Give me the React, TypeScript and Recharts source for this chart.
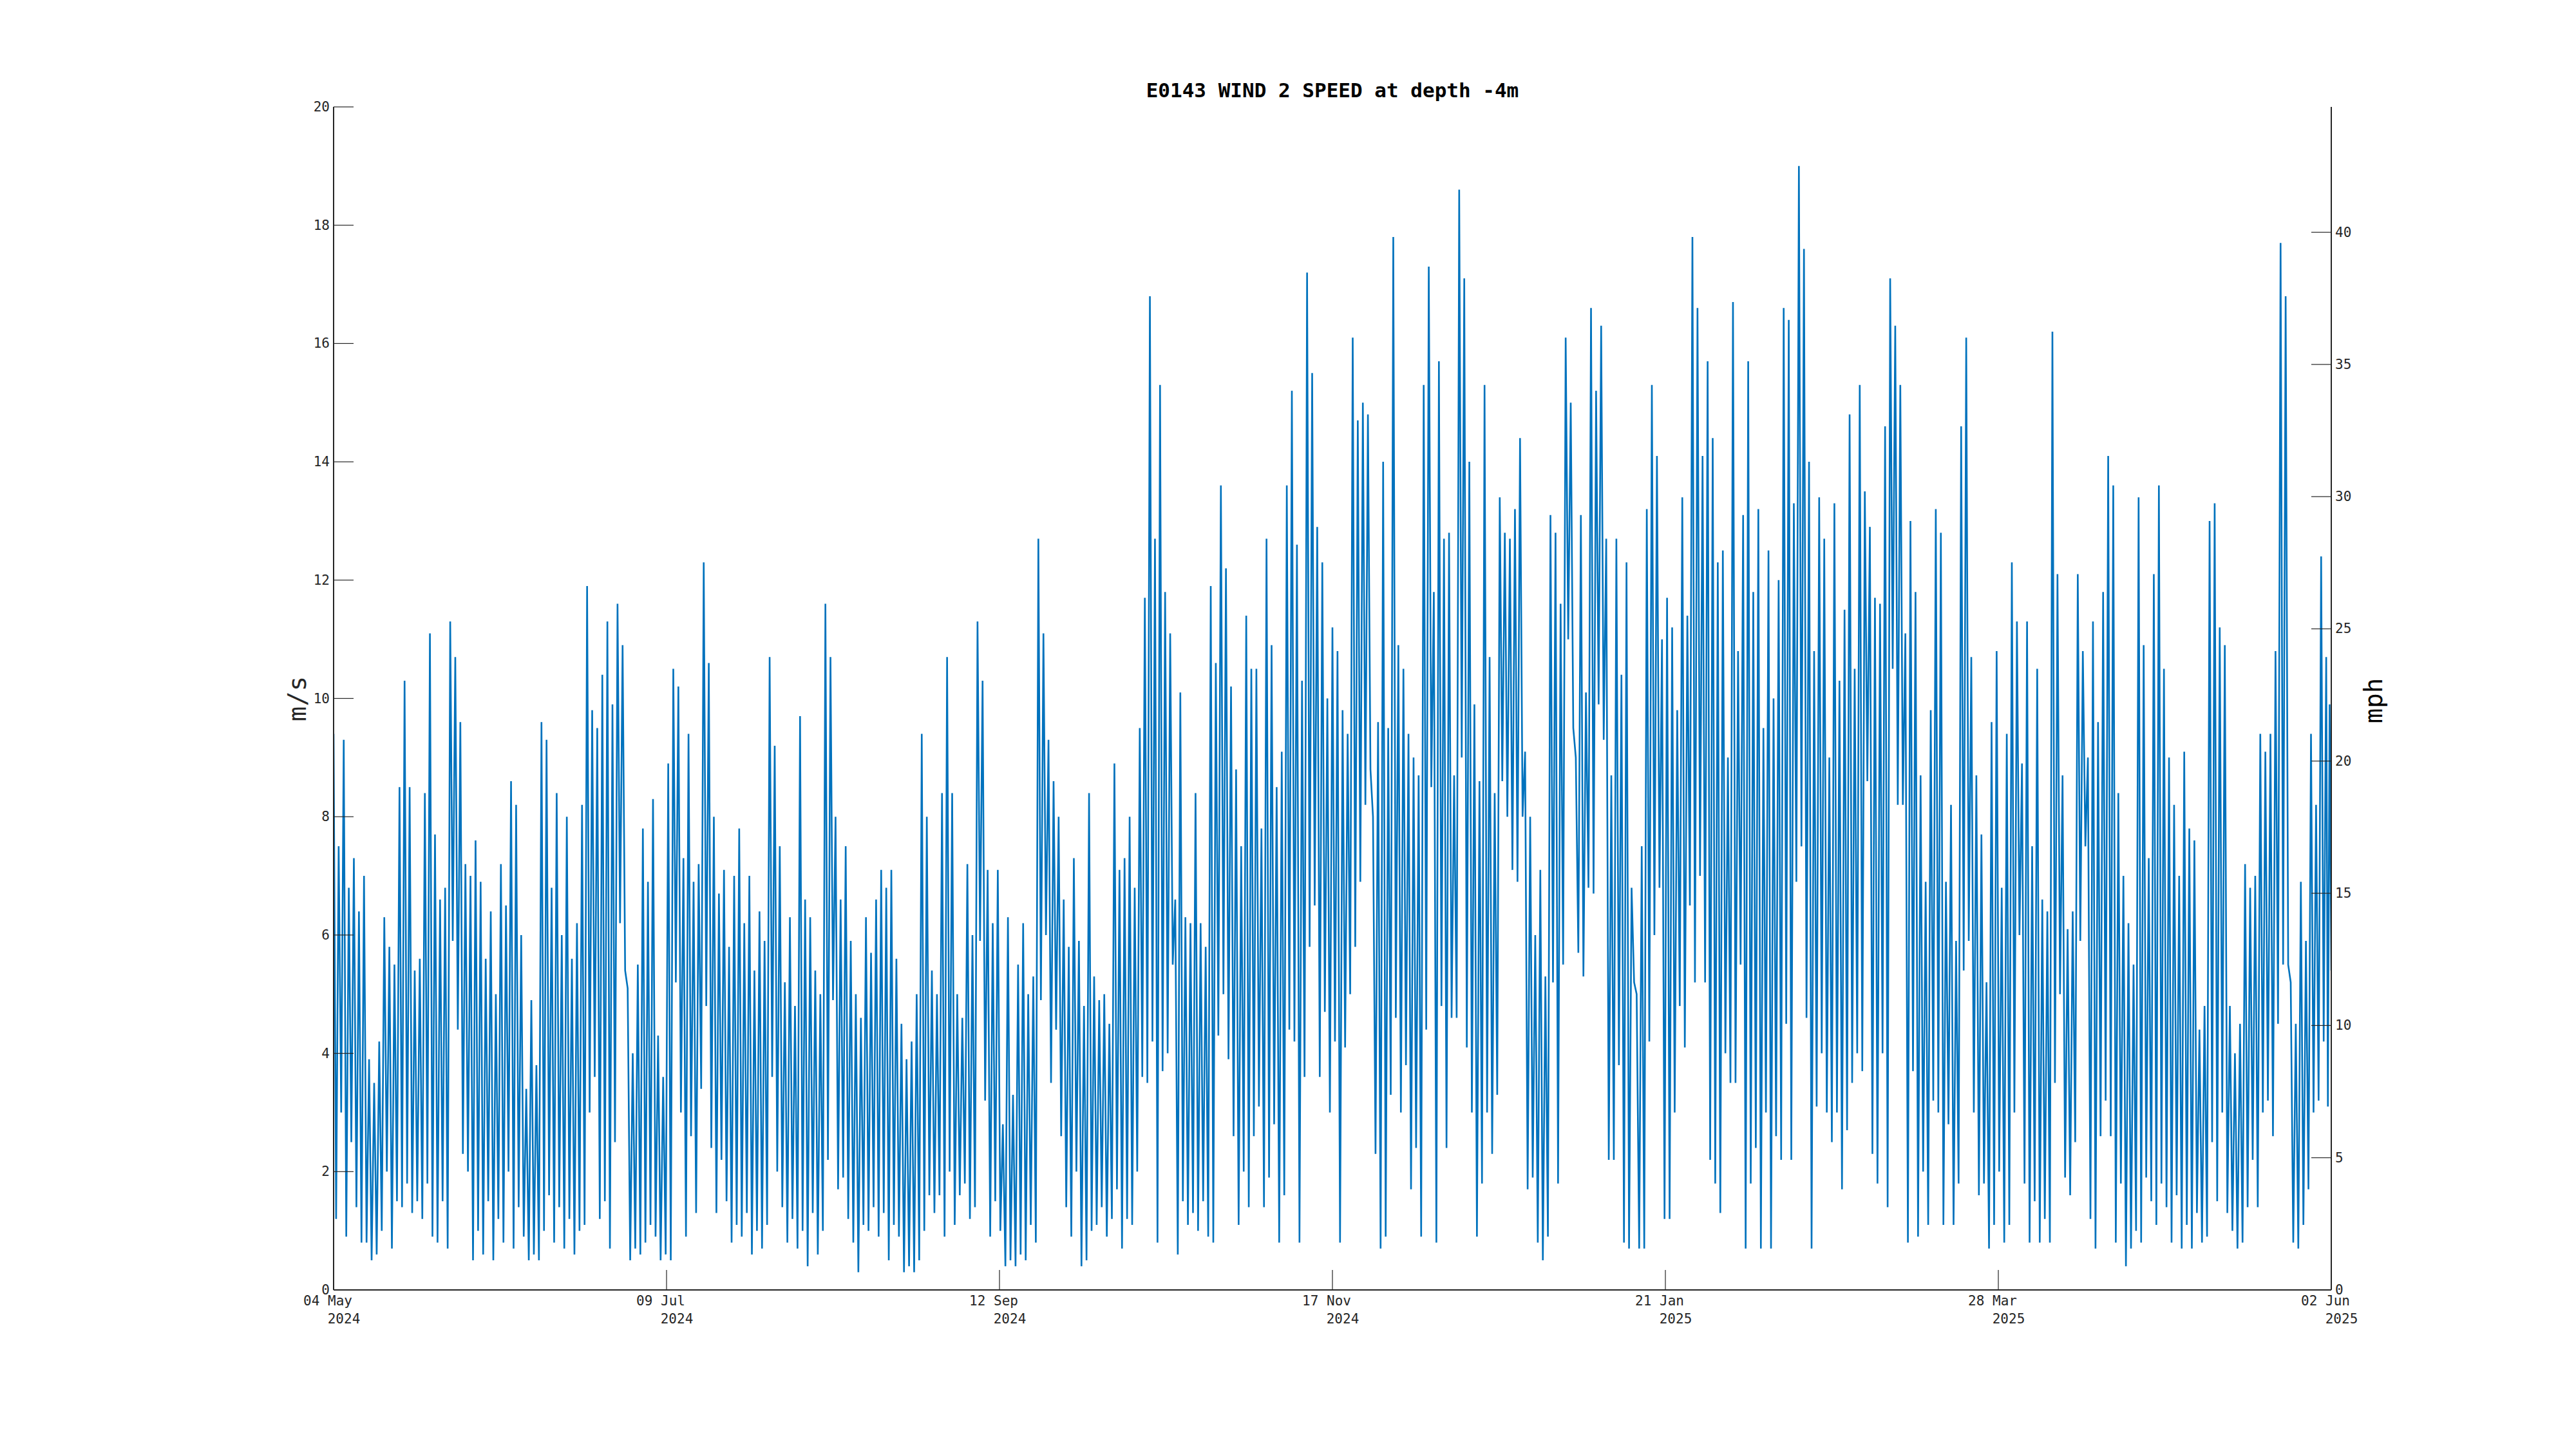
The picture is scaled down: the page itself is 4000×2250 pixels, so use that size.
import React from 'react';
import { LineChart, Line, XAxis, YAxis } from 'recharts';

// twice-daily readings (m/s) per month
const may2024 = [9.4, 1.2, 7.5, 3.0, 9.3, 0.9, 6.8, 2.5, 7.3, 1.4, 6.4, 0.8, 7.0, 0.8, 3.9, 0.5, 3.5, 0.6, 4.2, 1.0, 6.3, 2.0, 5.8, 0.7, 5.5, 1.5, 8.5, 1.4, 10.3, 1.8, 8.5, 1.3, 5.4, 1.5, 5.6, 1.2, 8.4, 1.8, 11.1, 0.9, 7.7, 0.8, 6.6, 1.5, 6.8, 0.7, 11.3, 5.9, 10.7, 4.4, 9.6, 2.3, 7.2, 2.0, 7.0, 0.5];
const jun2024 = [7.6, 1.0, 6.9, 0.6, 5.6, 1.5, 6.4, 0.5, 5.0, 1.2, 7.2, 0.8, 6.5, 2.0, 8.6, 0.7, 8.2, 1.4, 6.0, 0.9, 3.4, 0.5, 4.9, 0.6, 3.8, 0.5, 9.6, 1.0, 9.3, 1.6, 6.8, 0.8, 8.4, 1.4, 6.0, 0.7, 8.0, 1.2, 5.6, 0.6, 6.2, 1.0, 8.2, 1.1, 11.9, 3.0, 9.8, 3.6, 9.5, 1.2, 10.4, 1.5, 11.3, 0.7, 9.9, 2.5, 11.6, 6.2, 10.9, 5.4];
const jul2024 = [5.1, 0.5, 4.0, 0.7, 5.5, 0.6, 7.8, 0.8, 6.9, 1.1, 8.3, 0.9, 4.3, 0.5, 3.6, 0.6, 8.9, 0.5, 10.5, 5.2, 10.2, 3.0, 7.3, 0.9, 9.4, 2.6, 6.9, 1.3, 7.2, 3.4, 12.3, 4.8, 10.6, 2.4, 8.0, 1.3, 6.7, 2.2, 7.1, 1.5, 5.8, 0.8, 7.0, 1.1, 7.8, 0.9, 6.2, 1.3, 7.0, 0.6, 5.4, 1.0, 6.4, 0.7, 5.9, 1.1, 10.7, 3.6, 9.2, 2.0, 7.5, 1.4];
const aug2024 = [5.2, 0.8, 6.3, 1.2, 4.8, 0.7, 9.7, 1.0, 6.6, 0.4, 6.3, 1.3, 5.4, 0.6, 5.0, 1.0, 11.6, 2.2, 10.7, 4.9, 8.0, 1.7, 6.6, 1.9, 7.5, 1.2, 5.9, 0.8, 5.0, 0.3, 4.6, 1.1, 6.3, 1.0, 5.7, 1.4, 6.6, 0.9, 7.1, 1.3, 6.8, 0.5, 7.1, 1.1, 5.6, 0.9, 4.5, 0.3, 3.9, 0.4, 4.2, 0.3, 5.0, 0.5, 9.4, 1.0, 8.0, 1.6, 5.4, 1.3, 5.0, 1.6];
const sep2024 = [8.4, 0.9, 10.7, 2.0, 8.4, 1.1, 5.0, 1.6, 4.6, 1.8, 7.2, 1.2, 6.0, 1.4, 11.3, 5.9, 10.3, 3.2, 7.1, 0.9, 6.2, 1.5, 7.1, 1.0, 2.8, 0.4, 6.3, 0.5, 3.3, 0.4, 5.5, 0.6, 6.2, 0.5, 5.0, 1.1, 5.3, 0.8, 12.7, 4.9, 11.1, 6.0, 9.3, 3.5, 8.6, 4.4, 8.0, 2.6, 6.6, 1.4, 5.8, 0.9, 7.3, 2.0, 5.9, 0.4, 4.8, 0.5, 8.4, 1.0];
const oct2024 = [5.3, 1.1, 4.9, 1.4, 5.0, 0.9, 4.5, 1.2, 8.9, 1.7, 7.1, 0.7, 7.3, 1.2, 8.0, 1.1, 6.8, 2.0, 9.5, 3.6, 11.7, 3.5, 16.8, 4.2, 12.7, 0.8, 15.3, 3.7, 11.8, 4.0, 11.1, 5.5, 6.6, 0.6, 10.1, 1.5, 6.3, 1.1, 6.2, 1.3, 8.4, 1.0, 6.2, 1.5, 5.8, 0.9, 11.9, 0.8, 10.6, 4.3, 13.6, 5.0, 12.2, 3.9, 10.2, 2.6, 8.8, 1.1, 7.5, 2.0, 11.4, 1.4];
const nov2024 = [10.5, 2.6, 10.5, 3.1, 7.8, 1.4, 12.7, 1.9, 10.9, 2.8, 8.5, 0.8, 9.1, 1.6, 13.6, 4.4, 15.2, 4.2, 12.6, 0.8, 10.3, 3.6, 17.2, 5.8, 15.5, 6.5, 12.9, 3.6, 12.3, 4.7, 10.0, 3.0, 11.2, 4.2, 10.8, 0.8, 9.8, 4.1, 9.4, 5.0, 16.1, 5.8, 14.7, 6.9, 15.0, 8.2, 14.8, 8.8, 8.0, 2.3, 9.6, 0.7, 14.0, 0.9, 9.5, 3.3, 17.8, 4.6, 10.9, 3.0];
const dec2024 = [10.5, 3.8, 9.4, 1.7, 9.0, 2.4, 8.7, 0.9, 15.3, 4.4, 17.3, 8.5, 11.8, 0.8, 15.7, 4.8, 12.7, 2.4, 12.8, 4.6, 8.7, 4.6, 18.6, 9.0, 17.1, 4.1, 14.0, 3.0, 9.9, 0.9, 8.6, 1.8, 15.3, 3.0, 10.7, 2.3, 8.4, 3.3, 13.4, 8.6, 12.8, 8.0, 12.7, 7.1, 13.2, 6.9, 14.4, 8.0, 9.1, 1.7, 8.0, 1.9, 6.0, 0.8, 7.1, 0.5, 5.3, 0.9, 13.1, 5.2, 12.8, 1.8];
const jan2025 = [11.6, 5.5, 16.1, 11.0, 15.0, 9.5, 9.0, 5.7, 13.1, 5.3, 10.1, 6.8, 16.6, 6.7, 15.2, 9.9, 16.3, 9.3, 12.7, 2.2, 8.7, 2.2, 12.7, 3.8, 10.4, 0.8, 12.3, 0.7, 6.8, 5.2, 5.0, 0.7, 7.5, 0.7, 13.2, 4.2, 15.3, 6.0, 14.1, 6.8, 11.0, 1.2, 11.7, 1.2, 11.2, 3.0, 9.8, 4.8, 13.4, 4.1, 11.4, 6.5, 17.8, 5.2, 16.6, 7.0, 14.1, 5.2, 15.7, 2.2, 14.4, 1.8];
const feb2025 = [12.3, 1.3, 12.5, 4.0, 9.0, 3.5, 16.7, 3.5, 10.8, 5.5, 13.1, 0.7, 15.7, 1.8, 11.8, 2.4, 13.2, 0.7, 9.5, 3.0, 12.5, 0.7, 10.0, 2.6, 12.0, 2.2, 16.6, 4.5, 16.4, 2.2, 13.3, 6.9, 19.0, 7.5, 17.6, 4.6, 14.0, 0.7, 10.8, 3.1, 13.4, 4.0, 12.7, 3.0, 9.0, 2.5, 13.3, 3.0, 10.3, 1.7, 11.5, 2.7, 14.8, 3.5, 10.5, 4.0];
const mar2025 = [15.3, 3.7, 13.5, 8.6, 12.9, 2.3, 11.7, 1.8, 11.6, 4.0, 14.6, 1.4, 17.1, 10.5, 16.3, 8.2, 15.3, 8.2, 11.1, 0.8, 13.0, 3.7, 11.8, 0.9, 8.7, 2.0, 6.9, 1.1, 9.8, 3.2, 13.2, 3.0, 12.8, 1.1, 6.9, 2.8, 8.2, 1.1, 5.9, 1.8, 14.6, 5.4, 16.1, 5.9, 10.7, 3.0, 8.7, 1.6, 7.7, 1.8, 5.2, 0.7, 9.6, 1.1, 10.8, 2.0, 6.8, 0.8, 9.4, 1.1, 12.3, 3.0];
const apr2025 = [11.3, 6.0, 8.9, 1.8, 11.3, 0.8, 7.5, 1.5, 10.5, 0.8, 6.6, 1.2, 6.4, 0.8, 16.2, 3.5, 12.1, 5.0, 8.7, 1.9, 6.1, 1.6, 6.4, 2.5, 12.1, 5.9, 10.8, 7.5, 9.0, 1.2, 11.3, 0.7, 9.6, 2.6, 11.8, 3.2, 14.1, 2.6, 13.6, 0.8, 8.4, 1.8, 7.0, 0.4, 6.2, 0.7, 5.5, 1.0, 13.4, 0.8, 10.9, 1.9, 7.3, 1.5, 12.1, 1.1, 13.6, 1.8, 10.5, 1.4];
const may2025 = [9.0, 0.8, 8.2, 1.6, 7.0, 0.7, 9.1, 1.1, 7.8, 0.7, 7.6, 1.3, 4.4, 0.8, 4.8, 0.9, 13.0, 2.5, 13.3, 1.5, 11.2, 3.0, 10.9, 1.3, 4.8, 1.0, 4.0, 0.7, 4.5, 0.8, 7.2, 1.4, 6.8, 2.2, 7.0, 1.4, 9.4, 3.0, 9.1, 3.2, 9.4, 2.6, 10.8, 4.5, 17.7, 5.5, 16.8, 5.5, 5.2, 0.8, 4.5, 0.7, 6.9, 1.1, 5.9, 1.7, 9.4, 3.0, 8.2, 3.2, 12.4, 4.2];
const jun2025 = [10.7, 3.1, 9.9, 5.4];

const monthStarts = ['2024-05-04', '2024-06-01', '2024-07-01', '2024-08-01', '2024-09-01', '2024-10-01', '2024-11-01', '2024-12-01', '2025-01-01', '2025-02-01', '2025-03-01', '2025-04-01', '2025-05-01', '2025-06-01', '2025-06-02'];
const months = [may2024, jun2024, jul2024, aug2024, sep2024, oct2024, nov2024, dec2024, jan2025, feb2025, mar2025, apr2025, may2025, jun2025];

const tickDays = ['04 May', '09 Jul', '12 Sep', '17 Nov', '21 Jan', '28 Mar', '02 Jun'];
const tickYears = ['2024', '2024', '2024', '2024', '2025', '2025', '2025'];
const leftTicks = [0, 2, 4, 6, 8, 10, 12, 14, 16, 18, 20];
const rightTicks = [0, 5, 10, 15, 20, 25, 30, 35, 40];

const MPH = 2.23694;
const toMs = (d: string) => Date.parse(d + 'T00:00:00Z');
const xStart = toMs(monthStarts[0]);
const xEnd = toMs(monthStarts[monthStarts.length - 1]);
const xTicks = tickDays.map((_, i) => xStart + (i * (xEnd - xStart)) / (tickDays.length - 1));

const data: { t: number; v: number; mph: number }[] = [];
months.forEach((vals, m) => {
  const a = toMs(monthStarts[m]);
  const b = toMs(monthStarts[m + 1]);
  const last = m === months.length - 1;
  const step = (b - a) / (last ? vals.length - 1 : vals.length);
  vals.forEach((v, i) => data.push({ t: a + i * step, v, mph: v * MPH }));
});

const INK = '#262626';
const FONT = '"DejaVu Sans Mono", monospace';

function LeftTick({ x, y, payload }: any) {
  return (
    <g>
      <line x1={x + 6} y1={y} x2={x + 37} y2={y} stroke={INK} strokeWidth={1.2} />
      <text x={x} y={y} dy={7} textAnchor="end" fontFamily={FONT} fontSize={21} fill={INK}>
        {payload.value}
      </text>
    </g>
  );
}

function RightTick({ x, y, payload }: any) {
  return (
    <g>
      <line x1={x - 6} y1={y} x2={x - 37} y2={y} stroke={INK} strokeWidth={1.2} />
      <text x={x} y={y} dy={7} textAnchor="start" fontFamily={FONT} fontSize={21} fill={INK}>
        {payload.value}
      </text>
    </g>
  );
}

function DateTick({ x, y, payload }: any) {
  const i = xTicks.indexOf(payload.value);
  return (
    <g>
      <line x1={x} y1={y} x2={x} y2={y - 31} stroke={INK} strokeWidth={1.2} />
      <text x={x - 9} y={y + 24} textAnchor="middle" fontFamily={FONT} fontSize={21} fill={INK}>
        {tickDays[i]}
      </text>
      <text x={x + 16} y={y + 52} textAnchor="middle" fontFamily={FONT} fontSize={21} fill={INK}>
        {tickYears[i]}
      </text>
    </g>
  );
}

export default function App() {
  return (
    <div style={{ position: 'absolute', left: 0, top: 0, width: 4000, height: 2250, background: '#fff' }}>
      <div
        style={{
          position: 'absolute',
          left: 2069,
          top: 140,
          transform: 'translate(-50%, -50%)',
          fontFamily: FONT,
          fontWeight: 'bold',
          fontSize: 31,
          color: '#000',
          whiteSpace: 'nowrap',
        }}
      >
        E0143 WIND 2 SPEED at depth -4m
      </div>
      <div
        style={{
          position: 'absolute',
          left: 461,
          top: 1085,
          transform: 'translate(-50%, -50%) rotate(-90deg)',
          fontFamily: FONT,
          fontSize: 39,
          color: INK,
          whiteSpace: 'nowrap',
        }}
      >
        m/s
      </div>
      <div
        style={{
          position: 'absolute',
          left: 3685,
          top: 1088,
          transform: 'translate(-50%, -50%) rotate(-90deg)',
          fontFamily: FONT,
          fontSize: 39,
          color: '#000',
          whiteSpace: 'nowrap',
        }}
      >
        mph
      </div>
      <LineChart
        width={4000}
        height={2250}
        data={data}
        margin={{ top: 166, right: 320, left: 458, bottom: 187 }}
      >
        <XAxis
          dataKey="t"
          type="number"
          domain={[xStart, xEnd]}
          ticks={xTicks}
          interval={0}
          allowDataOverflow
          height={60}
          tickSize={0}
          tickMargin={0}
          axisLine={{ stroke: INK, strokeWidth: 2 }}
          tickLine={false}
          tick={<DateTick />}
        />
        <YAxis
          yAxisId="ms"
          domain={[0, 20]}
          ticks={leftTicks}
          interval={0}
          allowDataOverflow
          width={60}
          tickSize={0}
          tickMargin={6}
          axisLine={{ stroke: INK, strokeWidth: 2 }}
          tickLine={false}
          tick={<LeftTick />}
        />
        <YAxis
          yAxisId="mph"
          orientation="right"
          domain={[0, 20 * MPH]}
          ticks={rightTicks}
          interval={0}
          allowDataOverflow
          width={60}
          tickSize={0}
          tickMargin={6}
          axisLine={{ stroke: INK, strokeWidth: 2 }}
          tickLine={false}
          tick={<RightTick />}
        />
        <Line
          yAxisId="mph"
          type="linear"
          dataKey="mph"
          stroke="none"
          dot={false}
          activeDot={false}
          isAnimationActive={false}
        />
        <Line
          yAxisId="ms"
          type="linear"
          dataKey="v"
          stroke="#0072BD"
          strokeWidth={2.6}
          strokeLinejoin="miter"
          dot={false}
          activeDot={false}
          isAnimationActive={false}
        />
      </LineChart>
    </div>
  );
}
